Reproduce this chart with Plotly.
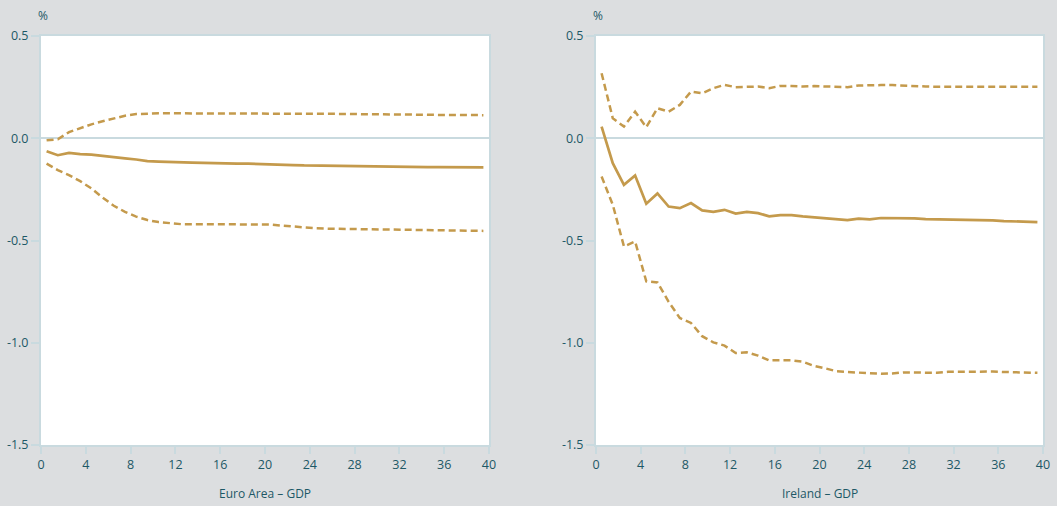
import plotly.graph_objects as go

periods = list(range(1, 41))

ea_central = [-0.064, -0.083, -0.072, -0.078, -0.08, -0.087, -0.092, -0.098, -0.104, -0.112,
              -0.114, -0.116, -0.12, -0.119, -0.12, -0.122, -0.124, -0.124, -0.124, -0.125,
              -0.126, -0.128, -0.131, -0.133, -0.134, -0.134, -0.135, -0.136, -0.137, -0.139,
              -0.14, -0.14, -0.14, -0.141, -0.141, -0.141, -0.142, -0.142, -0.142, -0.142]
ea_upper = [-0.01, -0.005, 0.03, 0.05, 0.068, 0.083, 0.097, 0.11, 0.118, 0.121,
            0.122, 0.122, 0.122, 0.122, 0.122, 0.122, 0.122, 0.122, 0.122, 0.121,
            0.121, 0.12, 0.12, 0.12, 0.12, 0.12, 0.119, 0.119, 0.118, 0.118,
            0.117, 0.116, 0.116, 0.115, 0.115, 0.114, 0.114, 0.114, 0.113, 0.113]
ea_lower = [-0.124, -0.156, -0.18, -0.21, -0.245, -0.29, -0.33, -0.36, -0.383, -0.4,
            -0.41, -0.416, -0.42, -0.42, -0.42, -0.42, -0.42, -0.42, -0.42, -0.42,
            -0.422, -0.427, -0.432, -0.436, -0.44, -0.442, -0.443, -0.444, -0.445, -0.446,
            -0.447, -0.448, -0.449, -0.45, -0.451, -0.452, -0.452, -0.453, -0.453, -0.453]

ie_central = [0.057, -0.122, -0.228, -0.182, -0.32, -0.27, -0.334, -0.342, -0.317, -0.353,
              -0.36, -0.35, -0.368, -0.36, -0.366, -0.382, -0.376, -0.376, -0.382, -0.387,
              -0.39, -0.394, -0.4, -0.393, -0.397, -0.39, -0.39, -0.392, -0.392, -0.395,
              -0.396, -0.397, -0.398, -0.398, -0.398, -0.402, -0.405, -0.407, -0.409, -0.41]
ie_upper = [0.318, 0.098, 0.057, 0.13, 0.054, 0.147, 0.13, 0.163, 0.228, 0.22,
            0.245, 0.261, 0.25, 0.25, 0.253, 0.245, 0.256, 0.255, 0.253, 0.255,
            0.253, 0.252, 0.25, 0.258, 0.26, 0.26, 0.26, 0.257, 0.255, 0.253,
            0.252, 0.252, 0.253, 0.252, 0.252, 0.252, 0.252, 0.252, 0.252, 0.252]
ie_lower = [-0.187, -0.325, -0.529, -0.505, -0.7, -0.705, -0.8, -0.879, -0.903, -0.968,
            -0.998, -1.014, -1.05, -1.047, -1.063, -1.086, -1.086, -1.086, -1.093, -1.113,
            -1.125, -1.139, -1.143, -1.147, -1.149, -1.151, -1.15, -1.145, -1.146, -1.147,
            -1.147, -1.142, -1.141, -1.141, -1.141, -1.141, -1.143, -1.145, -1.146, -1.147]

x_ticks = [0, 4, 8, 12, 16, 20, 24, 28, 32, 36, 40]
y_ticks = [0.5, 0.0, -0.5, -1.0, -1.5]
y_ticktext = ["0.5", "0.0", "-0.5", "-1.0", "-1.5"]
panel_titles = ["Euro Area \u2013 GDP", "Ireland \u2013 GDP"]

GOLD = "#c49a4c"
AXIS = "#c9dadf"
TEXT = "#1d5866"
BG = "#dcdee0"
FONT = "Open Sans, Noto Sans, sans-serif"

xs = [p - 0.5 for p in periods]

fig = go.Figure()
panels = [(ea_central, ea_upper, ea_lower, "x", "y"),
          (ie_central, ie_upper, ie_lower, "x2", "y2")]
for central, upper, lower, xa, ya in panels:
    fig.add_trace(go.Scatter(x=xs, y=upper, mode="lines", xaxis=xa, yaxis=ya,
                             line=dict(color=GOLD, width=2.5, dash="7px,4px"), showlegend=False))
    fig.add_trace(go.Scatter(x=xs, y=lower, mode="lines", xaxis=xa, yaxis=ya,
                             line=dict(color=GOLD, width=2.5, dash="7px,4px"), showlegend=False))
    fig.add_trace(go.Scatter(x=xs, y=central, mode="lines", xaxis=xa, yaxis=ya,
                             line=dict(color=GOLD, width=2.7), showlegend=False))

W, H = 1057, 506
ydom = [1 - 445 / H, 1 - 36 / H]
xdoms = [[41 / W, 489 / W], [596 / W, 1043 / W]]

common_x = dict(range=[0, 40], tickvals=x_ticks, showgrid=False, zeroline=False,
                showline=True, linecolor=AXIS, linewidth=2, mirror=True, automargin=False,
                ticks="outside", ticklen=7, tickwidth=2, tickcolor=AXIS,
                tickfont=dict(family=FONT, size=12.5, color=TEXT), fixedrange=True)
common_y = dict(range=[-1.5, 0.5], tickvals=y_ticks, ticktext=y_ticktext, showgrid=False,
                zeroline=True, zerolinecolor=AXIS, zerolinewidth=2, automargin=False,
                showline=True, linecolor=AXIS, linewidth=2, mirror=True,
                ticks="outside", ticklen=8, tickwidth=2, tickcolor=AXIS,
                tickfont=dict(family=FONT, size=12.5, color=TEXT), fixedrange=True)

fig.update_layout(
    template="none",
    width=W, height=H, autosize=False,
    margin=dict(l=0, r=0, t=0, b=0, pad=0),
    paper_bgcolor=BG, plot_bgcolor="white",
    hovermode=False,
    xaxis=dict(domain=xdoms[0], anchor="y", **common_x),
    yaxis=dict(domain=ydom, anchor="x", **common_y),
    xaxis2=dict(domain=xdoms[1], anchor="y2", **common_x),
    yaxis2=dict(domain=ydom, anchor="x2", **common_y),
)

annotations = []
for i, dom in enumerate(xdoms):
    annotations.append(dict(text="%", xref="paper", yref="paper", x=dom[0] + 2 / W, y=1 - 15 / H,
                            xanchor="center", yanchor="middle", showarrow=False,
                            font=dict(family=FONT, size=12, color=TEXT)))
    annotations.append(dict(text=panel_titles[i], xref="paper", yref="paper",
                            x=(dom[0] + dom[1]) / 2, y=1 - 493 / H,
                            xanchor="center", yanchor="middle", showarrow=False,
                            font=dict(family=FONT, size=12, color=TEXT)))
fig.update_layout(annotations=annotations)

fig.write_html("out.html",
               config={"displayModeBar": False, "staticPlot": True},
               post_script="document.body.style.margin='0px';document.body.style.overflow='hidden';")
